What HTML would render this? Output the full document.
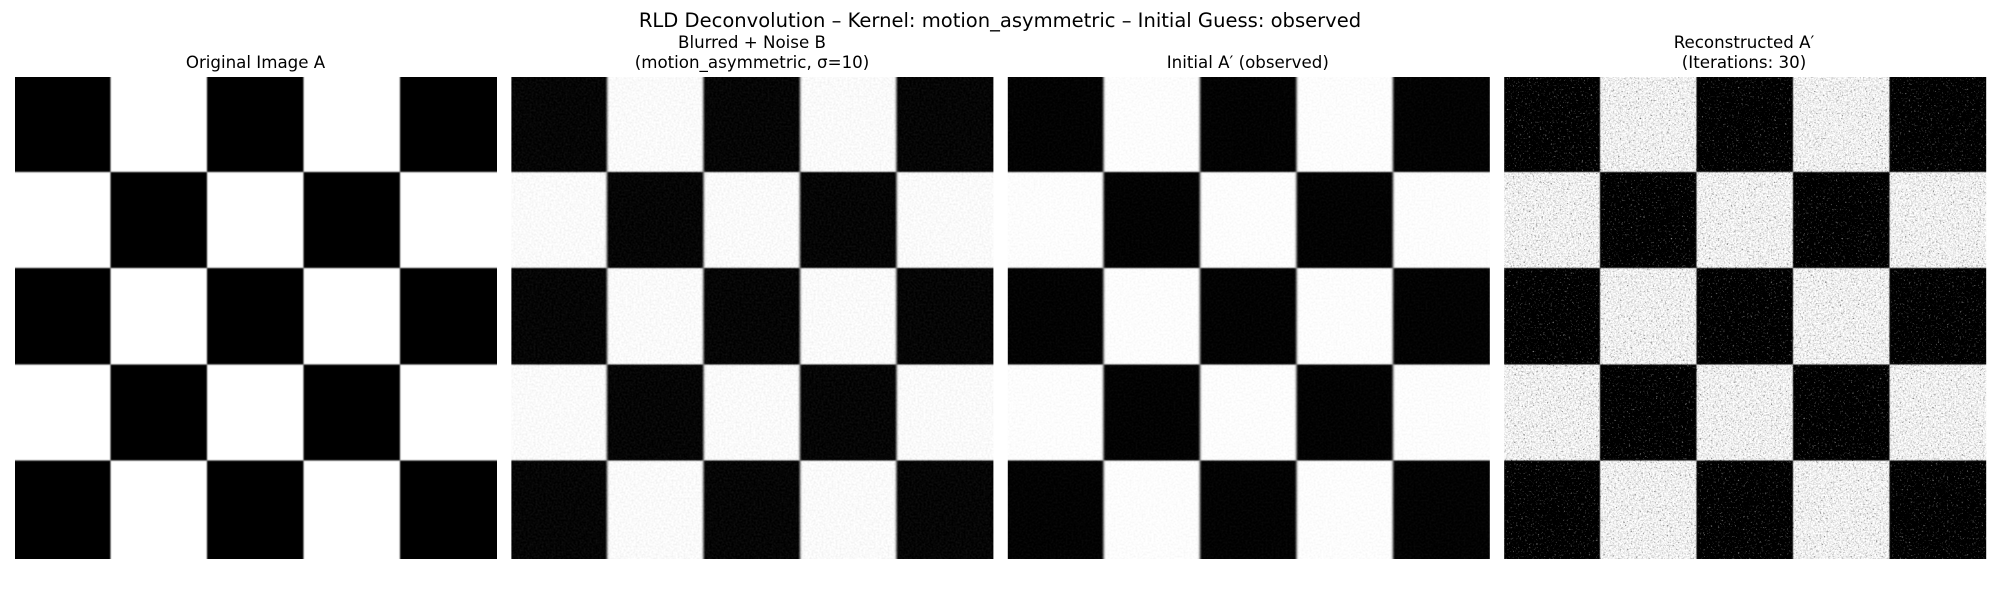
<!DOCTYPE html>
<html lang="en">
<head>
<meta charset="utf-8">
<title>RLD Deconvolution</title>
<style>
html,body{margin:0;padding:0;background:#fff;width:2000px;height:600px;overflow:hidden}
svg{display:block}
text{font-family:"DejaVu Sans","Liberation Sans",sans-serif;fill:#000;text-anchor:middle}
.sup{font-size:19.55px}
.sub{font-size:16.67px}
.noise{mix-blend-mode:difference}
.grain{mix-blend-mode:multiply}
</style>
</head>
<body>
<svg id="fig" xmlns="http://www.w3.org/2000/svg" width="2000" height="600" viewBox="0 0 2000 600">
<defs>
<filter id="blur-a" filterUnits="userSpaceOnUse" x="-50" y="0" width="2100" height="600" color-interpolation-filters="sRGB"><feGaussianBlur stdDeviation="0.8 0.8"/></filter>
<filter id="blur-b" filterUnits="userSpaceOnUse" x="-50" y="0" width="2100" height="600" color-interpolation-filters="sRGB"><feGaussianBlur stdDeviation="1.2 0.8"/></filter>
<filter id="blur-c" filterUnits="userSpaceOnUse" x="-50" y="0" width="2100" height="600" color-interpolation-filters="sRGB"><feGaussianBlur stdDeviation="1.2 0.8"/></filter>
<filter id="blur-d" filterUnits="userSpaceOnUse" x="-50" y="0" width="2100" height="600" color-interpolation-filters="sRGB"><feGaussianBlur stdDeviation="0.5 0.5"/></filter>
<filter id="noise-b" x="0" y="0" width="100%" height="100%" color-interpolation-filters="sRGB">
<feTurbulence type="fractalNoise" baseFrequency="0.5" numOctaves="2" seed="3"/>
<feColorMatrix values="0.12 0 0 0 -0.04  0.12 0 0 0 -0.04  0.12 0 0 0 -0.04  0 0 0 0 1"/>
</filter>
<filter id="noise-c" x="0" y="0" width="100%" height="100%" color-interpolation-filters="sRGB">
<feTurbulence type="fractalNoise" baseFrequency="0.5" numOctaves="2" seed="11"/>
<feColorMatrix values="0.08 0 0 0 -0.03  0.08 0 0 0 -0.03  0.08 0 0 0 -0.03  0 0 0 0 1"/>
</filter>
<filter id="noise-d" x="0" y="0" width="100%" height="100%" color-interpolation-filters="sRGB">
<feTurbulence type="fractalNoise" baseFrequency="0.55" numOctaves="2" seed="7"/>
<feColorMatrix values="2 0 0 0 -1.24  2 0 0 0 -1.24  2 0 0 0 -1.24  0 0 0 0 1"/>
</filter>
<filter id="grain-d" x="0" y="0" width="100%" height="100%" color-interpolation-filters="sRGB">
<feTurbulence type="fractalNoise" baseFrequency="0.6" numOctaves="2" seed="19"/>
<feColorMatrix values="0.5 0 0 0 0.7  0.5 0 0 0 0.7  0.5 0 0 0 0.7  0 0 0 0 1"/>
</filter>
</defs>

<text class="sup" x="1000" y="27">RLD Deconvolution – Kernel: motion_asymmetric – Initial Guess: observed</text>

<text class="sub" x="255.5" y="68">Original Image A</text>

<text class="sub" x="752" y="48">Blurred + Noise B</text>
<text class="sub" x="752" y="68">(motion_asymmetric, σ=10)</text>

<text class="sub" x="1247.8" y="68">Initial A′ (observed)</text>

<text class="sub" x="1744" y="48">Reconstructed A′</text>
<text class="sub" x="1744" y="68">(Iterations: 30)</text>
</svg>

<script>
// Intensity of each checker cell (0 = black, 1 = white).
const panelAValues = [
  [0.00, 1.00, 0.00, 1.00, 0.00],
  [1.00, 0.00, 1.00, 0.00, 1.00],
  [0.00, 1.00, 0.00, 1.00, 0.00],
  [1.00, 0.00, 1.00, 0.00, 1.00],
  [0.00, 1.00, 0.00, 1.00, 0.00]
];
const panelBValues = [
  [0.00, 1.00, 0.00, 1.00, 0.00],
  [1.00, 0.00, 1.00, 0.00, 1.00],
  [0.00, 1.00, 0.00, 1.00, 0.00],
  [1.00, 0.00, 1.00, 0.00, 1.00],
  [0.00, 1.00, 0.00, 1.00, 0.00]
];
const panelCValues = [
  [0.00, 1.00, 0.00, 1.00, 0.00],
  [1.00, 0.00, 1.00, 0.00, 1.00],
  [0.00, 1.00, 0.00, 1.00, 0.00],
  [1.00, 0.00, 1.00, 0.00, 1.00],
  [0.00, 1.00, 0.00, 1.00, 0.00]
];
const panelDValues = [
  [0.00, 1.00, 0.00, 1.00, 0.00],
  [1.00, 0.00, 1.00, 0.00, 1.00],
  [0.00, 1.00, 0.00, 1.00, 0.00],
  [1.00, 0.00, 1.00, 0.00, 1.00],
  [0.00, 1.00, 0.00, 1.00, 0.00]
];
const panelIds = ['a', 'b', 'c', 'd'];

const NS = 'http://www.w3.org/2000/svg';
const fig = document.getElementById('fig');
const defs = fig.querySelector('defs');
const allValues = [panelAValues, panelBValues, panelCValues, panelDValues];

// axis functions
const panelSize = 482;
const panelTop = 77;
function panelLeft(p) { return 15 + 496.4 * p; }
function xAxis(p, col) {
  if (col <= 0) return panelLeft(p) - 20;
  if (col >= 5) return panelLeft(p) + panelSize + 20;
  return panelLeft(p) + 95.7 + 96.5 * (col - 1);
}
function yAxis(row) {
  if (row <= 0) return panelTop - 20;
  if (row >= 5) return panelTop + panelSize + 20;
  return panelTop + 94.8 + 96.3 * (row - 1);
}
function colorScale(v) {
  const g = Math.round(Math.max(0, Math.min(1, v)) * 255);
  return 'rgb(' + g + ',' + g + ',' + g + ')';
}

allValues.forEach(function (grid, p) {
  const id = panelIds[p];

  const clip = document.createElementNS(NS, 'clipPath');
  clip.setAttribute('id', 'clip-' + id);
  const clipRect = document.createElementNS(NS, 'rect');
  clipRect.setAttribute('x', panelLeft(p));
  clipRect.setAttribute('y', panelTop);
  clipRect.setAttribute('width', panelSize);
  clipRect.setAttribute('height', panelSize);
  clip.appendChild(clipRect);
  defs.appendChild(clip);

  const panel = document.createElementNS(NS, 'g');
  
  
  panel.setAttribute('clip-path', 'url(#clip-' + id + ')');
  panel.style.isolation = 'isolate';

  const board = document.createElementNS(NS, 'g');
  
  
  board.setAttribute('filter', 'url(#blur-' + id + ')');
  board.setAttribute('shape-rendering', 'crispEdges');

  grid.forEach(function (rowVals, r) {
    rowVals.forEach(function (v, c) {
      const cell = document.createElementNS(NS, 'rect');
      
      
      cell.setAttribute('x', xAxis(p, c));
      cell.setAttribute('y', yAxis(r));
      cell.setAttribute('width', xAxis(p, c + 1) - xAxis(p, c));
      cell.setAttribute('height', yAxis(r + 1) - yAxis(r));
      cell.setAttribute('fill', colorScale(v));
      board.appendChild(cell);
    });
  });
  panel.appendChild(board);

  if (id === 'd') {
    const grain = document.createElementNS(NS, 'rect');
    
    
    grain.setAttribute('class', 'grain');
    grain.setAttribute('x', panelLeft(p));
    grain.setAttribute('y', panelTop);
    grain.setAttribute('width', panelSize);
    grain.setAttribute('height', panelSize);
    grain.setAttribute('filter', 'url(#grain-d)');
    panel.appendChild(grain);
  }
  if (id !== 'a') {
    const noise = document.createElementNS(NS, 'rect');
    
    
    noise.setAttribute('class', 'noise');
    noise.setAttribute('x', panelLeft(p));
    noise.setAttribute('y', panelTop);
    noise.setAttribute('width', panelSize);
    noise.setAttribute('height', panelSize);
    noise.setAttribute('filter', 'url(#noise-' + id + ')');
    panel.appendChild(noise);
  }
  fig.appendChild(panel);
});
</script>
</body>
</html>
